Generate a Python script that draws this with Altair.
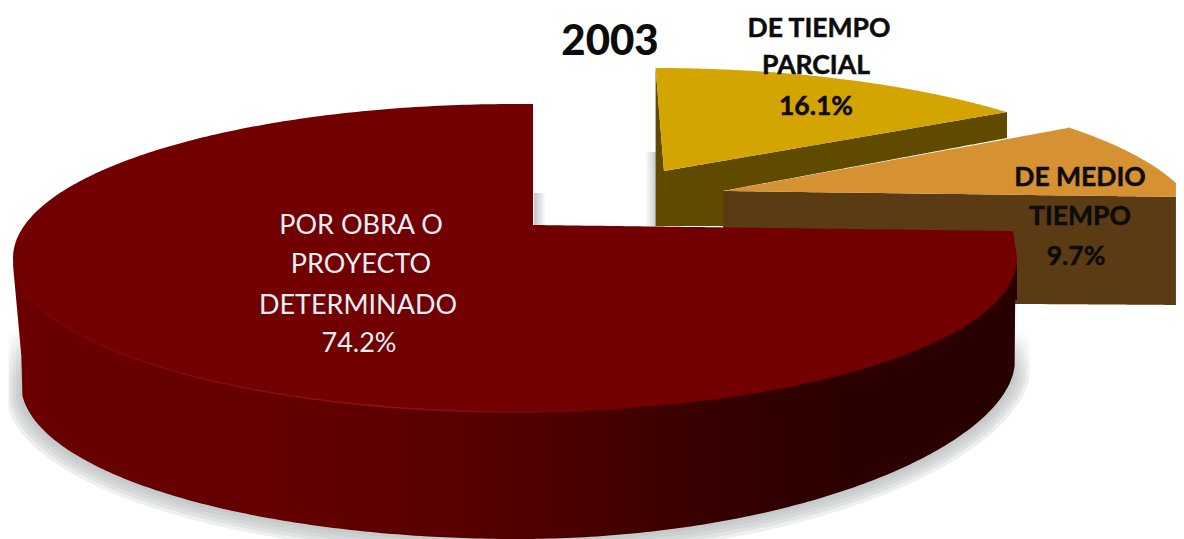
import numpy as np
import pandas as pd
import altair as alt

# ---- values
YEAR = "2003"
CATEGORIES = ["POR OBRA O\nPROYECTO\nDETERMINADO", "DE TIEMPO\nPARCIAL", "DE MEDIO\nTIEMPO"]
VALUES = [74.2, 16.1, 9.7]

# ---- drawing geometry in picture pixels (3D look: slices are ellipse sectors)
W, H = 1168, 531
xs = alt.Scale(domain=[8, 8 + W], range=[0, W], nice=False, zero=False)
ys = alt.Scale(domain=[8, 8 + H], range=[0, H], nice=False, zero=False)


def ell(x, cx, rx, ry):
    return ry * np.sqrt(np.clip(1 - ((x - cx) / rx) ** 2, 0, 1))


def grid(a, b, n=260):
    """x samples, denser near the ends of the ellipse"""
    u = np.linspace(0, np.pi, n)
    return a + (b - a) * (1 - np.cos(u)) / 2


def area(x, y, y2, fill, **kw):
    keep = (x >= 8) & (x <= 8 + W)
    df = pd.DataFrame({"x": np.round(x[keep], 2), "y": np.round(y[keep], 2), "y2": np.round(y2[keep], 2)})
    return alt.Chart(df).mark_area(fill=fill, stroke=None, **kw).encode(
        x=alt.X("x:Q", scale=xs, axis=None),
        y=alt.Y("y:Q", scale=ys, axis=None),
        y2="y2:Q",
    )


def grad(stops, horizontal=True):
    return alt.Gradient(
        gradient="linear",
        stops=[alt.GradientStop(offset=o, color=c) for o, c in stops],
        x1=0, y1=0, x2=1 if horizontal else 0, y2=0 if horizontal else 1,
    )


def bottom_curve(x):
    sin_t = np.clip((x - 518) / 497, 0, 1)
    return 384 + ell(x, 518, 497, 155) - 24 * sin_t ** 2


layers = []

# soft shadow below the large slice
fade = grad([(0, "rgba(170,176,176,0)"), (0.22, "rgba(170,176,176,1)"), (1, "rgba(170,176,176,1)")], horizontal=False)
for d in [15, 12, 9, 6, 3]:
    x = grid(22 - d, 1015 + d)
    y_low = 384 + d * 0.6 + ell(x, 518, 497 + d, 155 + d * 0.6) - 24 * np.clip((x - 518) / 497, 0, 1) ** 2
    layers.append(area(x, np.full_like(x, 330.0), y_low, fade, opacity=0.2))

# little shadows beside the cut faces
x = np.array([645.0, 657.0])
layers.append(area(x, np.full(2, 152.0), np.full(2, 226.0),
                   grad([(0, "#ffffff"), (1, "#c4c6c8")])))
x = np.array([534.0, 546.0])
layers.append(area(x, np.full(2, 193.0), np.full(2, 226.0),
                   grad([(0, "#c4c6c8"), (1, "#ffffff")])))

# part-time slice
xa = np.unique(np.concatenate([np.linspace(655.6, 664, 6), grid(664, 1007), [723, 723.01]]))
yt = 222 - ell(xa, 655, 502, 154)
yb = np.interp(xa, [655.6, 664, 1007], [68, 171, 112])
wall_b = np.interp(xa, [655.6, 723, 723.01, 1007], [226, 226, 191, 138])
layers.append(area(xa, yb, wall_b, "#5f4a00"))
layers.append(area(xa, yt, yb, "#d4a400"))

# half-time slice
xb = np.unique(np.concatenate([np.linspace(723, 1068, 40), grid(1068, 1184)]))
yt = np.where(xb <= 1068, np.interp(xb, [723, 1068], [191, 128]), 232 - ell(xb, 700, 502, 154))
yb = np.interp(xb, [723, 1184], [191, 197])
layers.append(area(xb, yb, np.interp(xb, [723, 1184], [302, 305]), "#5a3b13"))
layers.append(area(xb, yt, yb, "#d69232"))

# large slice: wall
xr = np.unique(np.concatenate([grid(13, 1017), [533, 533.01]]))
low = 258 + ell(xr, 515, 502, 154)
wall = np.where(xr < 22, np.interp(xr, [13, 22], [265, 363]),
                np.where(xr > 1015, 300, bottom_curve(np.minimum(xr, 1015))))
layers.append(area(xr, low - 2, wall, grad([
    (0, "#6a0000"), (0.25, "#640000"), (0.42, "#5a0000"), (0.56, "#4c0000"),
    (0.68, "#380000"), (0.8, "#2e0000"), (1, "#280000")])))

# large slice: top face
up = np.where(xr <= 533, 258 - ell(xr, 515, 502, 154),
              np.interp(xr, [533.01, 1013, 1017], [225, 231, 258]))
layers.append(area(xr, up, low, "#720000"))

# highlight on the rim
xh = grid(22, 620)
hl = pd.DataFrame({"x": xh, "y": 258 + ell(xh, 515, 502, 154)})
layers.append(alt.Chart(hl).mark_line(strokeWidth=1.6, opacity=0.75, stroke=alt.Gradient(
    gradient="linear",
    stops=[alt.GradientStop(offset=0, color="#7a0404"), alt.GradientStop(offset=0.6, color="#9a1818"),
           alt.GradientStop(offset=1, color="#720000")],
    x1=0, y1=0, x2=1, y2=0)).encode(
    x=alt.X("x:Q", scale=xs, axis=None), y=alt.Y("y:Q", scale=ys, axis=None)))


# ---- labels
def label_rows(cat, val, cx, ys_):
    lines = cat.split("\n") + [f"{val}%"]
    return [{"x": c, "y": y, "t": t} for t, c, y in zip(lines, cx, ys_)]


def text_layer(rows, color, size, weight, thick=0.0):
    extra = {"stroke": color, "strokeWidth": thick} if thick else {}
    return alt.Chart(pd.DataFrame(rows)).mark_text(
        font="Lato", fontSize=size, fontWeight=weight, color=color,
        align="center", baseline="middle", dy=2, **extra).encode(
        x=alt.X("x:Q", scale=xs, axis=None), y=alt.Y("y:Q", scale=ys, axis=None), text="t:N")


layers.append(text_layer(label_rows(CATEGORIES[0], VALUES[0], [361, 361, 358, 359], [224, 263, 304, 342]),
                         "#e6eef6", 27, 400))
layers.append(text_layer(label_rows(CATEGORIES[1], VALUES[1], [819, 816, 816], [27, 64, 105]),
                         "#0c0c0c", 26.5, 700, 0.5))
layers.append(text_layer(label_rows(CATEGORIES[2], VALUES[2], [1080, 1080, 1076], [176, 215, 255]),
                         "#0c0c0c", 26.5, 700, 0.5))
layers.append(text_layer([{"x": 610, "y": 40, "t": YEAR}], "#0c0c0c", 42, 900))

chart = alt.layer(*layers).properties(
    width=W, height=H, padding=0, background="white"
).configure_view(stroke=None)

chart.save("out.html", embed_options={"renderer": "svg", "actions": False})
